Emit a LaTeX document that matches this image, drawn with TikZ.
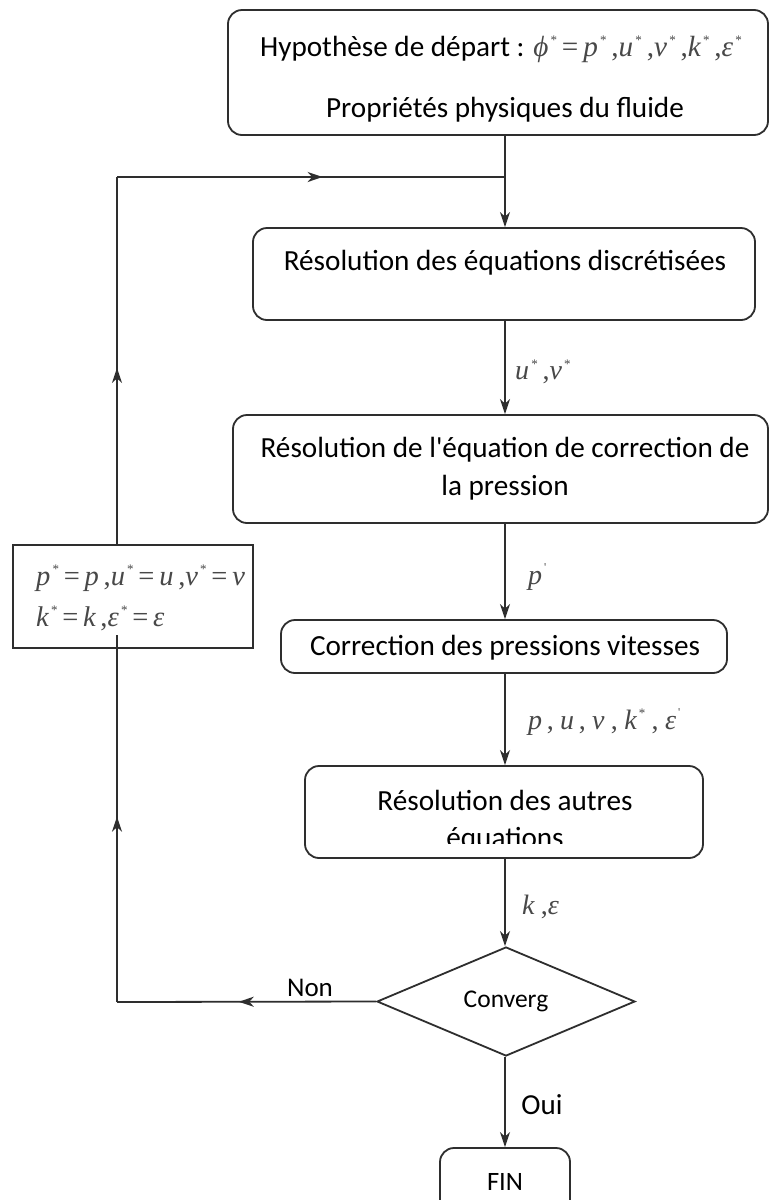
\documentclass[tikz,border=0pt]{standalone}
\usepackage{fontspec}
\usepackage{graphicx}
\setmainfont{Carlito}[Ligatures=TeXOff]
\newfontfamily\tms{Liberation Serif}
\usetikzlibrary{arrows.meta,decorations.markings,shapes.geometric}
\definecolor{lncol}{HTML}{2E2E2E}
\definecolor{mth}{HTML}{484848}
\newcommand\mv[1]{{\tms\itshape\color{mth}#1}}
\newcommand\sst{{\raisebox{0.42em}{\fontsize{13}{13}\selectfont\tms\color{mth}\,*}}}
\newcommand\prm{{\raisebox{0.45em}{\fontsize{12}{12}\selectfont\tms\color{mth}\,'}}}
\newcommand\meq{{\tms\color{mth}\,=\,}}
\newcommand\mcm{{\tms\color{mth},}}
\begin{document}
\begin{tikzpicture}[x=1pt,y=-1pt,
  box/.style={draw=lncol, line width=1.8pt, rounded corners=14pt, inner sep=0pt},
  sqbox/.style={draw=lncol, line width=1.8pt, inner sep=0pt},
  dia/.style={draw=lncol, line width=1.8pt, diamond, inner sep=0pt},
  txt/.style={font=\fontsize{29.2}{31}\selectfont, inner sep=0pt},
  lbl/.style={font=\fontsize{28}{30}\selectfont, inner sep=0pt, anchor=west},
  ln/.style={draw=lncol, line width=1.8pt},
  tip/.tip={Stealth[length=15pt,width=10pt,inset=4.5pt]},
  flow/.style={ln, -tip},
  midarr/.style={postaction={decorate}, decoration={markings,
     mark=at position #1 with {\arrow{tip}}}}
]
\useasboundingbox (0,0) rectangle (770,1200);
\clip (0,0) rectangle (770,1200);
\fill[white] (0,0) rectangle (770,1200);

% axis
\coordinate (ax) at (505,0);

% boxes
\node[box, minimum width=540, minimum height=125] (top) at (498,72.5) {};
\node[box, minimum width=502, minimum height=92] (b2) at (504,274) {};
\node[box, minimum width=535, minimum height=108] (b3) at (500.5,469) {};
\node[box, minimum width=446, minimum height=53] (b4) at (504,646.5) {};
\node[box, minimum width=398, minimum height=92] (b5) at (504,812) {};
\node[dia, minimum width=258, minimum height=109] (conv) at (506,1001.5) {};
\node[box, minimum width=130, minimum height=67] (fin) at (505,1181.5) {};
\node[sqbox, minimum width=240, minimum height=103] (upd) at (133,596.5) {};

% texts
\node[txt] (t1a) at (501,49) {Hypothèse de départ : \mv{ϕ}\sst\meq\mv{p}\sst\,\mcm\mv{u}\sst\,\mcm\mv{v}\sst\,\mcm\mv{k}\sst\,\mcm\mv{ε}\sst};
\node[txt] (t1b) at (505,110) {Propriétés physiques du fluide};
\node[txt] (t2) at (505,263) {Résolution des équations discrétisées};
\node[txt] (t3a) at (505,450) {Résolution de l'équation de correction de};
\node[txt] (t3b) at (505,488) {la pression};
\node[txt] (t4) at (505,648) {Correction des pressions vitesses};
\node[txt] (t5a) at (505,800) {Résolution des autres};
\begin{scope}
\clip (305,766) rectangle (703,843);
\node[txt] (t5b) at (505,840) {équations};
\end{scope}
\node[font=\fontsize{25.5}{27}\selectfont, inner sep=0pt] (tc) at (conv.center) {Converg};
\node[font=\fontsize{26.5}{28}\selectfont, inner sep=0pt] (tf) at (fin.center) {FIN};
\node[lbl, font=\fontsize{28.5}{30}\selectfont] (tu1) at (36,578) {\mv{p}\sst\meq\mv{p}\,\mcm\mv{u}\sst\meq\mv{u}\,\mcm\mv{v}\sst\meq\mv{v}};
\node[lbl, font=\fontsize{28.5}{30}\selectfont] (tu2) at (36,618) {\mv{k}\sst\meq\mv{k}\,\mcm\mv{ε}\sst\meq\mv{ε}};

% labels
\node[lbl] (l1) at (515,372) {\mv{u}\sst\,\mcm\mv{v}\sst};
\node[lbl] (l2) at (528,577) {\mv{p}\prm};
\node[lbl] (l3) at (528,722) {\mv{p}\,\mcm\ \mv{u}\,\mcm\ \mv{v}\ \mcm\ \mv{k}\sst\ \mcm\ \mv{ε}\prm};
\node[lbl] (l4) at (522,907) {\mv{k}\ \mcm\mv{ε}};
\node[lbl, anchor=center, font=\fontsize{27}{29}\selectfont] (lnon) at (310,988) {Non};
\node[lbl, anchor=center, font=\fontsize{29}{31}\selectfont] (loui) at (542,1105) {Oui};

% coordinates of the loop
\coordinate (J) at (505,177);
\coordinate (TL) at (117,177);
\coordinate (BL) at (117,1002);
\coordinate (upin) at (117,635);

% connectors
\draw[flow] (top.south -| ax) -- (b2.north -| ax);
\draw[flow] (b2.south -| ax) -- (b3.north -| ax);
\draw[flow] (b3.south -| ax) -- (b4.north -| ax);
\draw[flow] (b4.south -| ax) -- (b5.north -| ax);
\draw[flow] (b5.south -| ax) -- (conv.north -| ax);
\draw[flow] (conv.south -| ax) -- (fin.north -| ax);

\draw[ln, midarr=0.53] (conv.west) -- (BL);
\draw[ln, midarr=0.505] (BL) -- (upin);
\draw[ln, midarr=0.48] (upd.north -| TL) -- (TL);
\draw[ln, midarr=0.53] (TL) -- (J);
\end{tikzpicture}
\end{document}
